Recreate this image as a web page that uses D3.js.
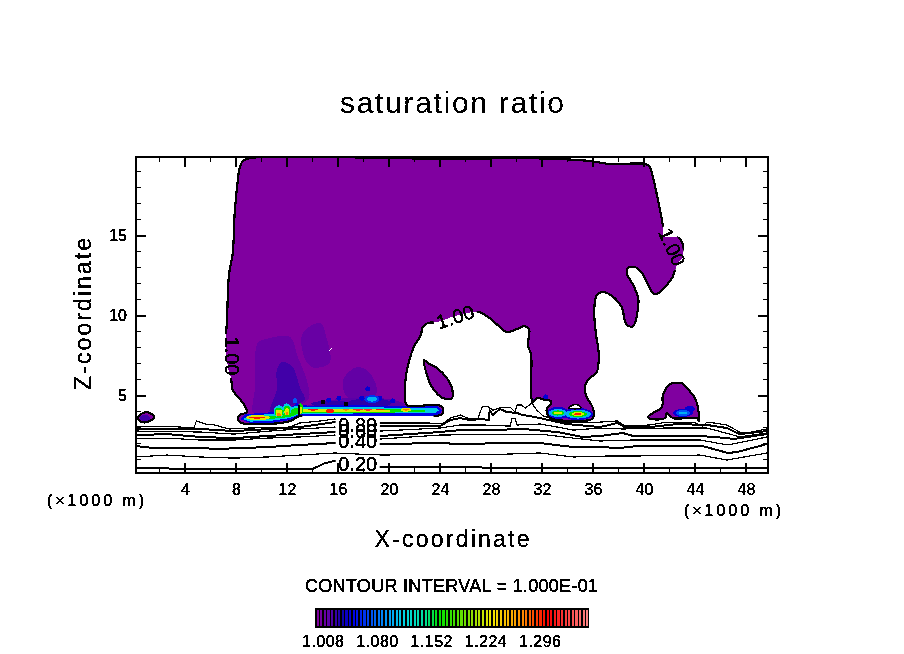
<!DOCTYPE html>
<html>
<head>
<meta charset="utf-8">
<title>saturation ratio</title>
<script src="https://cdn.jsdelivr.net/npm/d3@7/dist/d3.min.js"></script>
<style>
    html, body { margin: 0; padding: 0; background: #fff; }
    svg { display: block; }
    text { font-family: "Liberation Sans", Arial, sans-serif; fill: #000; stroke: #000; stroke-width: 0.4px; }
    .marks path, .marks ellipse { shape-rendering: crispEdges; }
    .tick line { shape-rendering: crispEdges; stroke: #000; }
</style>
</head>
<body>
<svg id="chart" width="904" height="654"></svg>
<script>
// Axis ticks (x in 1000 m, z in 1000 m).
const xMajor = [4, 8, 12, 16, 20, 24, 28, 32, 36, 40, 44, 48];
const xMinor = [2, 6, 10, 14, 18, 22, 26, 30, 34, 38, 42, 46];
const zMajor = [5, 10, 15];
const zMinor = [1, 2, 3, 4, 6, 7, 8, 9, 11, 12, 13, 14, 16, 17, 18, 19];

// The saturated region, ratio just above 1.00.
const mainRegion = [[9.1,19.81],[8.55,19.63],[8.3,19.25],[8.15,18.44],[7.9,16.38],[7.75,13.88],[7.45,12.5],[7.3,9.69],[7.2,8.13],[7.45,6.44],[7.6,6.13],[7.75,5.31],[8.1,4.94],[8.55,4.5],[8.85,3.94],[8.3,3.75],[8.15,3.5],[8.45,3.25],[9.1,3.19],[10.65,3.19],[12.25,3.38],[13,3.69],[15.35,3.75],[20.85,3.75],[23.75,3.69],[24.15,3.81],[24.25,4.19],[23.85,4.38],[21.4,4.38],[21.25,5],[21.25,5.63],[21.5,6.88],[21.95,8],[22.5,8.75],[22.65,9.25],[23.05,9.5],[23.75,9.56],[25.2,9.94],[27,10.19],[27.9,9.81],[28.7,9.25],[29.25,8.94],[30.05,9.13],[30.65,9.31],[31,9.06],[30.9,8.13],[31.15,7.5],[31.15,4.88],[31.3,4.56],[31.6,4.81],[32.25,4.69],[32.7,4.63],[32.7,4.44],[32.4,4.19],[32.45,3.75],[32.85,3.5],[35.75,3.44],[36,3.56],[36,4.19],[35.55,4.81],[35.35,5.31],[35.6,5.94],[36.3,6.44],[36.45,7.63],[36.25,8.75],[36.1,10.19],[36.3,11.25],[36.8,11.44],[37.7,11.06],[38.25,10.5],[38.65,9.38],[39.15,9.31],[39.45,10],[39.55,11.06],[39.15,11.88],[38.65,12.63],[38.75,12.94],[39.3,13],[39.85,12.63],[40.45,11.69],[40.7,11.38],[41,11.31],[41.4,11.56],[42.2,12.31],[42.65,13.25],[43,13.56],[43,14.56],[42.6,14.88],[41.55,14.94],[41.5,15.5],[41.1,17.19],[40.7,18.63],[40.45,19.25],[40.1,19.44],[37.35,19.44],[35.75,19.63],[33.4,19.75],[30.3,19.81],[24,19.75],[20.85,19.81],[13,19.88]];
const lensRegion = [[22.75,7.19],[22.98,6.25],[23.37,5.5],[24.24,4.81],[24.94,4.81],[24.94,5.44],[24.55,6.06],[23.76,6.69],[23.06,7]];
const rightRegion = [[42.6,5.75],[42.04,5.69],[41.49,5],[41.41,4.25],[40.7,3.88],[40.31,3.63],[40.63,3.5],[41.65,3.56],[41.8,3.88],[42.27,3.56],[44.16,3.56],[44.31,3.38],[44.24,4.19],[44,4.81],[43.37,5.44],[42.98,5.75]];
const leftRegion = [[0.31,3.56],[0.71,3.88],[1.25,3.88],[1.57,3.63],[1.25,3.38],[0.63,3.31]];
const holeRegion = [[34.1,4.19],[34.45,4.38],[34.85,4.38],[35.05,4.19]];
const sliver = [[15.3,7.75],[15.5,7.94]];
const bandStep = [[12.95,4.4],[12.95,3.75]];

// Weakly higher ratio inside the main region.
const shadeA = [[9.5,7],[9.7,8.25],[10.65,8.56],[12.25,8.63],[12.85,7.38],[13.55,5.94],[13.65,4.69],[10.1,3.88],[9.35,3.88],[9.5,5.5]];
const shadeB = [[13.25,8.88],[14.6,9.5],[15.15,8.44],[15.35,7],[13.95,6.75],[13.25,7.63]];
const shadeC = [[11.2,6.56],[11.6,7.06],[12.45,6.75],[13,5.5],[13.4,4.69],[12.45,4.38],[11.45,4.06],[10.65,3.94],[11.2,5.31]];
const shadeD = [[16.4,5.94],[17.5,6.75],[18.5,6.38],[19.05,5.13],[17.95,4.69],[16.7,4.88]];
const shadeE = [[14.6,4.5],[16.55,4.81],[20.45,4.69],[21.25,4.38],[13,4.19]];
const shadeLevels = [1.018, 1.018, 1.03, 1.02, 1.024];

// The supersaturated band at cloud base, outermost level first.
const bandBlue = [[8.31,3.5],[8.78,3.81],[10.04,3.88],[11.06,3.94],[11.45,4.19],[11.92,4.38],[12.39,4.25],[12.71,4.5],[13.02,4.44],[13.8,4.31],[16.16,4.38],[20.86,4.31],[23.84,4.31],[24.16,4.06],[23.92,3.7],[20.86,3.7],[13.02,3.68],[12.24,3.44],[10.67,3.25],[9.1,3.25]];
const bandCyan = [[8.55,3.5],[9.1,3.75],[11.06,3.81],[11.45,4],[12,4.19],[12.71,4.31],[13.02,4.25],[16.16,4.25],[23.69,4.19],[23.92,4.06],[23.69,3.88],[20.86,3.88],[13.02,3.81],[12.24,3.56],[10.67,3.38],[9.1,3.34]];
const bandGreen = [[9.1,3.56],[9.73,3.69],[11.06,3.69],[11.53,3.88],[12,4.06],[12.71,4.19],[13.02,4.16],[16.16,4.16],[20.47,4.13],[22.82,4.06],[22.82,3.94],[20.47,3.91],[13.02,3.88],[12.24,3.63],[10.67,3.5],[9.25,3.44]];
const bandYellow = [[13.18,4.13],[16.55,4.13],[20.08,4.09],[20.08,3.97],[16.55,3.94],[13.18,3.91]];
const bandLevels = [1.055, 1.12, 1.17, 1.235];

// Haze above the band, drawn under it.
const haze = [
    [18.5,4.5,1.7,.3,1.034],[15.5,4.45,1.6,.2,1.034]
];

// Small cells: x, z, half width, half height, ratio.
const cells = [
    [9.73,3.59,.94,.16,1.235],[9.65,3.59,.63,.06,1.31],
    [11.37,3.98,.42,.38,1.12],[11.37,3.92,.34,.3,1.17],[11.37,3.88,.27,.22,1.235],[11.37,3.78,.16,.09,1.285],
    [12,4.1,.36,.38,1.12],[12,4.02,.28,.3,1.17],[12,3.95,.2,.22,1.235],[12,3.85,.08,.09,1.285],
    [13.05,4.15,.22,.34,1.17],[13.05,4.06,.14,.22,1.235],
    [14.04,4.09,.39,.06,1.31],[15.37,4,.31,.13,1.31],[16.63,4.09,.24,.06,1.285],
    [17.57,4.09,.39,.06,1.33],[18.35,4.09,.31,.06,1.33],[19.29,4.09,.31,.05,1.31],
    [21.33,4.09,.39,.13,1.235],[21.33,4.09,.24,.06,1.285],
    [18.35,5.38,.2,.16,1.05],[16.08,4.81,.2,.16,1.05],[15.29,4.69,.2,.16,1.05],
    [17.88,4.81,.2,.16,1.05],[19.29,4.81,.2,.16,1.05],[20.31,4.63,.2,.16,1.05],
    [12.63,4.63,.2,.16,1.08],[32.31,4.88,.2,.16,1.05],[31.29,4.63,.16,.13,1.05],
    [18.67,4.75,.6,.25,1.07],[18.67,4.75,.39,.16,1.11],
    [33.25,3.88,.86,.38,1.05],[34.82,3.81,1.18,.38,1.05],
    [33.25,3.88,.71,.25,1.11],[34.82,3.81,1.02,.28,1.11],
    [33.25,3.88,.47,.16,1.17],[34.82,3.81,.71,.19,1.17],
    [33.25,3.88,.31,.09,1.235],[34.82,3.81,.47,.13,1.235],[34.82,3.81,.31,.05,1.31],
    [43.06,3.88,.78,.25,1.05],[43.61,4.13,.39,.19,1.05],
    [43.06,3.88,.55,.19,1.08],[43.06,3.88,.31,.09,1.11],
    [0.86,3.56,.39,.19,1.03]
];
const blackCells = [[14.82,4.56,.18,.14],[16.63,4.44,.18,.16]];

// Contour lines below cloud base, top to bottom. Every other one is heavy.
const line1 = [[.16,3],[2.6,3.06],[4.7,2.94],[4.9,3.38],[5.6,3.19],[6.35,3.13],[6.9,3],[7.5,2.88],[9.1,2.94],[12.2,3],[13,3.25],[14.6,3.38],[15.75,3.5],[19.3,3.25],[23.2,3.25],[24.2,3.19],[24.8,3.56],[25.6,3.75],[26.35,3.5],[27,3.56],[27.3,4.25],[27.7,4.31],[28.15,4.06],[28.7,4.19],[29.5,4.25],[29.9,3.94],[30.05,4.38],[30.4,4.38],[30.7,4.19],[31.2,4.5],[31.6,4.06],[32.1,3.69],[32.6,3.56],[33.65,3.31],[35.2,3.31],[36.55,3.31],[37.9,3.38],[38.5,3.06],[40.45,3.13],[41.8,3.31],[43.85,3.31],[44.6,3.06],[44.95,3.31],[45.55,3.25],[46.5,3.13],[47.5,2.69],[48.1,2.63],[49.65,2.88]];
const line2 = [[.16,2.88],[5.2,2.88],[7.85,2.75],[10.65,2.88],[13,3],[15.75,3.31],[19.3,3.06],[24,3.06],[24.8,3.44],[25.6,3.56],[26.35,3.44],[27.3,3.5],[27.85,3.44],[27.9,4.06],[28.15,3.75],[28.7,4.13],[29.25,3.94],[30.05,3.88],[30.5,3.75],[31.05,3.69],[31.85,3.56],[32.85,3.38],[33.95,3.19],[35.75,3.06],[36.55,3],[37.9,3.25],[38.5,3],[40.45,3],[42.6,3.19],[44.95,3.13],[46.5,2.94],[47.5,2.56],[49.65,2.75]];
const line3 = [[.16,2.75],[5.2,2.69],[7.85,2.56],[10.65,2.75],[13,2.88],[15.75,3],[19.3,2.75],[24,2.94],[25.6,3.13],[27.4,3.13],[29.5,3.06],[29.65,3.56],[29.9,3.56],[30.05,3.13],[31.85,3.19],[33.2,3],[34.45,2.81],[36.55,2.94],[38.35,2.88],[41.8,2.94],[44.95,2.94],[47,2.5],[47.5,2.38],[49.65,2.63]];
const line4 = [[.16,2.5],[2.6,2.56],[5.2,2.38],[7.85,2.31],[10.45,2.44],[13,2.56],[15.75,2.69],[19.3,2.44],[24,2.69],[25.6,2.81],[27.9,2.81],[30.5,2.88],[33.2,2.69],[35.2,2.38],[36.55,2.44],[38.35,2.63],[39.15,2.44],[44.4,2.44],[46.6,2.31],[47,2.25],[49.65,2.56]];
const line5 = [[.16,2.31],[2.6,2.31],[5.2,2.19],[7.85,2.19],[10.45,2.31],[13,2.38],[15.75,2.5],[19.3,2.25],[24,2.5],[29.25,2.56],[31.85,2.56],[34.45,2.31],[36.55,2.13],[39.15,2.19],[44.4,2.19],[46.6,1.88],[49.65,2.38]];
const line6 = [[.16,1.81],[1.55,1.69],[5.2,1.69],[6.5,1.63],[10.45,1.75],[13,1.88],[15.75,2],[19.3,1.94],[24,2],[25.6,1.94],[29.25,2],[31.85,2],[34.45,1.75],[36.55,1.75],[38.1,1.69],[39.45,1.81],[44.6,1.81],[46.6,1.38],[47.3,1.44],[49.65,1.94]];
const line7 = [[.16,1.13],[2.6,1.25],[5.2,1.13],[7.85,1.06],[10.45,1.13],[13,1.25],[15.75,1.38],[19.3,1.25],[24,1.31],[29.25,1.31],[31.85,1.38],[34.45,1.13],[37.2,1.19],[39.15,1.19],[44.4,1.25],[46.5,.94],[49.65,1.38]];
const line8 = [[.16,.44],[5.2,.38],[14,.38],[15,.75],[15.75,.88],[19.3,.5],[36.55,.44],[49.65,.44]];

// Contour labels sit in gaps of their lines.
const labelText = ['0.80', '0.60', '0.40', '0.20', '1.00', '1.00', '1.00'];
const labelX = [17.55, 17.55, 17.55, 17.55, 7.68, 25.2, 42.2];
const labelZ = [3.15, 2.75, 2.13, .69, 7.44, 9.88, 14.25];
const labelAngle = [0, 0, 0, 0, 90, -18, 66];

// The band has no line along its underside: x from, x to, z from, z to.
const edgeGap = [13.2, 23.5, 3.5, 3.92];

// Colour bar.
const barLabels = ['1.008', '1.080', '1.152', '1.224', '1.296'];
const barStep = 0.0048;
const barCount = 76;
const colourStops = [1.008, 1.026, 1.04, 1.055, 1.098, 1.125, 1.15, 1.17, 1.21, 1.24, 1.28, 1.315, 1.37];
const colourRange = ['#8000a0', '#5500a8', '#1000a8', '#0000e8', '#0090ff', '#00d8e0', '#00e0a0', '#00e000', '#80e000', '#f0e800', '#ff9000', '#ff0000', '#ff8888'];

const svg = d3.select('#chart');
const x = d3.scaleLinear().domain([0.16, 49.73]).range([136, 768]);
const z = d3.scaleLinear().domain([0.16, 19.88]).range([472.5, 157]);
const colour = d3.scaleLinear().domain(colourStops).range(colourRange);

const lineOf = d3.line().x(d => x(d[0])).y(d => z(d[1]));
const smoothRegion = d3.line().x(d => x(d[0])).y(d => z(d[1])).curve(d3.curveCatmullRomClosed.alpha(0.5));
const flatRegion = d3.line().x(d => x(d[0])).y(d => z(d[1])).curve(d3.curveLinearClosed);

const defs = svg.append('defs');

defs.append('clipPath').attr('id', 'frame-clip').append('rect')
    .attr('x', x.range()[0]).attr('y', z.range()[1])
    .attr('width', x.range()[1] - x.range()[0]).attr('height', z.range()[0] - z.range()[1]);

// Hard edged text, the way the plotting package rasterised it.
defs.append('filter').attr('id', 'aliased').attr('x', '-5%').attr('y', '-5%').attr('width', '110%').attr('height', '110%')
    .append('feComponentTransfer')
    .append('feFuncA').attr('type', 'discrete').attr('tableValues', '0 1');

// Lines stop short of their labels.
const gaps = defs.append('mask').attr('id', 'label-gaps')
    .attr('maskUnits', 'userSpaceOnUse')
    .attr('x', 0).attr('y', 0).attr('width', 904).attr('height', 654);
gaps.append('rect').attr('width', 904).attr('height', 654).attr('fill', '#fff');
labelText.forEach((t, i) => {
    gaps.append('rect')
        .attr('x', -22).attr('y', -9).attr('width', 44).attr('height', 18)
        .attr('fill', '#000')
        .attr('transform', `translate(${x(labelX[i])},${z(labelZ[i])}) rotate(${labelAngle[i]})`);
});

const marks = svg.append('g').attr('class', 'marks').attr('clip-path', 'url(#frame-clip)');

function drawCells(className, data, fill) {
    marks.selectAll(`ellipse.${className}`).data(data).join('ellipse')
        .attr('class', className)
        .attr('cx', d => x(d[0]))
        .attr('cy', d => z(d[1]))
        .attr('rx', d => x(d[2]) - x(0))
        .attr('ry', d => z(0) - z(d[3]))
        .attr('fill', fill);
}

// Filled regions.
const purple = colour(1.008);
[mainRegion, lensRegion, rightRegion, leftRegion].forEach(r => {
    marks.append('path').attr('d', smoothRegion(r)).attr('fill', purple);
});

[shadeA, shadeB, shadeC, shadeD, shadeE].forEach((r, i) => {
    marks.append('path').attr('d', smoothRegion(r)).attr('fill', colour(shadeLevels[i]));
});

drawCells('haze', haze, d => colour(d[4]));

[bandBlue, bandCyan, bandGreen, bandYellow].forEach((r, i) => {
    marks.append('path').attr('d', flatRegion(r)).attr('fill', colour(bandLevels[i]));
});

drawCells('cell', cells, d => colour(d[4]));
drawCells('black', blackCells, '#000');

marks.append('path').attr('d', lineOf(sliver)).attr('fill', 'none').attr('stroke', '#fff');

// Region outlines, open along the underside of the band.
const outlineGaps = defs.append('mask').attr('id', 'outline-gaps')
    .attr('maskUnits', 'userSpaceOnUse')
    .attr('x', 0).attr('y', 0).attr('width', 904).attr('height', 654);
outlineGaps.append('rect').attr('width', 904).attr('height', 654).attr('fill', '#fff');
outlineGaps.append('rect')
    .attr('x', x(edgeGap[0])).attr('y', z(edgeGap[3]))
    .attr('width', x(edgeGap[1]) - x(edgeGap[0])).attr('height', z(edgeGap[2]) - z(edgeGap[3]))
    .attr('fill', '#000');

const contours = marks.append('g').attr('mask', 'url(#label-gaps)');
const outlines = contours.append('g').attr('mask', 'url(#outline-gaps)');

[mainRegion, lensRegion, rightRegion, leftRegion].forEach(r => {
    outlines.append('path').attr('d', smoothRegion(r))
        .attr('fill', 'none').attr('stroke', '#000').attr('stroke-width', 2.2);
});
contours.append('path').attr('d', smoothRegion(holeRegion))
    .attr('fill', '#fff').attr('stroke', '#000').attr('stroke-width', 1.5);
contours.append('path').attr('d', lineOf(bandStep))
    .attr('fill', 'none').attr('stroke', '#000').attr('stroke-width', 1.5);

// Contour lines.
[line1, line2, line3, line4, line5, line6, line7, line8].forEach((l, i) => {
    contours.append('path').attr('d', lineOf(l))
        .attr('fill', 'none').attr('stroke', '#000')
        .attr('stroke-width', i % 2 ? 2 : 1.2);
});

// Frame and ticks on all four sides, pointing inward.
const frame = svg.append('g');
const [plotLeft, plotRight] = x.range();
const [plotBottom, plotTop] = z.range();

function drawAxis(axis, tx, ty, size, values, width) {
    const g = frame.append('g').attr('transform', `translate(${tx},${ty})`)
        .call(axis.tickValues(values).tickSize(size));
    g.select('.domain').remove();
    g.selectAll('.tick line').attr('stroke-width', width);
    return g;
}

const blank = () => '';
drawAxis(d3.axisBottom(x).tickFormat(blank), 0, plotBottom, -5, xMinor, 1);
drawAxis(d3.axisTop(x).tickFormat(blank), 0, plotTop, -5, xMinor, 1);
drawAxis(d3.axisLeft(z).tickFormat(blank), plotLeft, 0, -5, zMinor, 1);
drawAxis(d3.axisRight(z).tickFormat(blank), plotRight, 0, -5, zMinor, 1);
drawAxis(d3.axisTop(x).tickFormat(blank), 0, plotTop, -10, xMajor, 2);
drawAxis(d3.axisRight(z).tickFormat(blank), plotRight, 0, -10, zMajor, 2);

const labels = svg.append('g').attr('filter', 'url(#aliased)');

const xAxisG = drawAxis(d3.axisBottom(x).tickFormat(d3.format('d')).tickPadding(11), 0, plotBottom, -10, xMajor, 2);
const zAxisG = drawAxis(d3.axisLeft(z).tickFormat(d3.format('d')).tickPadding(9), plotLeft, 0, -10, zMajor, 2);
[xAxisG, zAxisG].forEach(g => {
    g.attr('font-family', null).attr('font-size', null);
    g.selectAll('text').style('font-size', '16px').attr('filter', 'url(#aliased)');
});

frame.append('rect')
    .attr('x', plotLeft).attr('y', plotTop)
    .attr('width', plotRight - plotLeft).attr('height', plotBottom - plotTop)
    .attr('fill', 'none').attr('stroke', '#000').attr('stroke-width', 2)
    .attr('shape-rendering', 'crispEdges');

// Contour labels.
labelText.forEach((t, i) => {
    labels.append('text')
        .attr('text-anchor', 'middle')
        .attr('dominant-baseline', 'central')
        .attr('transform', `translate(${x(labelX[i])},${z(labelZ[i])}) rotate(${labelAngle[i]})`)
        .style('font-size', '20px')
        .text(t);
});

// Titles, each stretched to the width it has in the original.
function caption(text, cx, baseline, size, length, rotate, weight) {
    const t = labels.append('text')
        .attr('text-anchor', 'middle')
        .attr('textLength', length)
        .attr('lengthAdjust', 'spacing')
        .style('font-size', size + 'px')
        .text(text);
    if (weight) t.style('stroke-width', weight + 'px');
    t.attr('transform', `translate(${cx},${baseline})` + (rotate ? ` rotate(${rotate})` : ''));
}

caption('saturation ratio', 452, 113, 30, 224, 0, 0.15);
caption('X-coordinate', 452, 547, 23, 155, 0, 0.3);
caption('Z-coordinate', 91, 314, 23, 152, -90, 0.3);
caption('(\u00d71000 m)', 95.5, 506, 16, 97);
caption('(\u00d71000 m)', 732.5, 516, 16, 97);
caption('CONTOUR INTERVAL = 1.000E-01', 451.5, 592, 18, 293);

// Colour bar: one thin cell per level on a black ground.
const barLevels = d3.range(barCount).map(i => 1.008 + i * barStep);
const barX = d3.scaleBand().domain(barLevels).range([316, 589]).paddingInner(0.42).paddingOuter(0.2);
const bar = svg.append('g').attr('class', 'marks');

bar.append('rect')
    .attr('x', 315).attr('y', 608).attr('width', 274).attr('height', 20)
    .attr('fill', '#000').attr('shape-rendering', 'crispEdges');

bar.selectAll('rect.level').data(barLevels).join('rect')
    .attr('class', 'level')
    .attr('x', d => barX(d))
    .attr('y', 610)
    .attr('width', barX.bandwidth())
    .attr('height', 16)
    .attr('fill', d => colour(d))
    .attr('shape-rendering', 'crispEdges');

const barLabelX = d3.scalePoint().domain(barLabels).range([323, 540]);
barLabels.forEach(t => caption(t, barLabelX(t), 647, 16, 42));
</script>
</body>
</html>
